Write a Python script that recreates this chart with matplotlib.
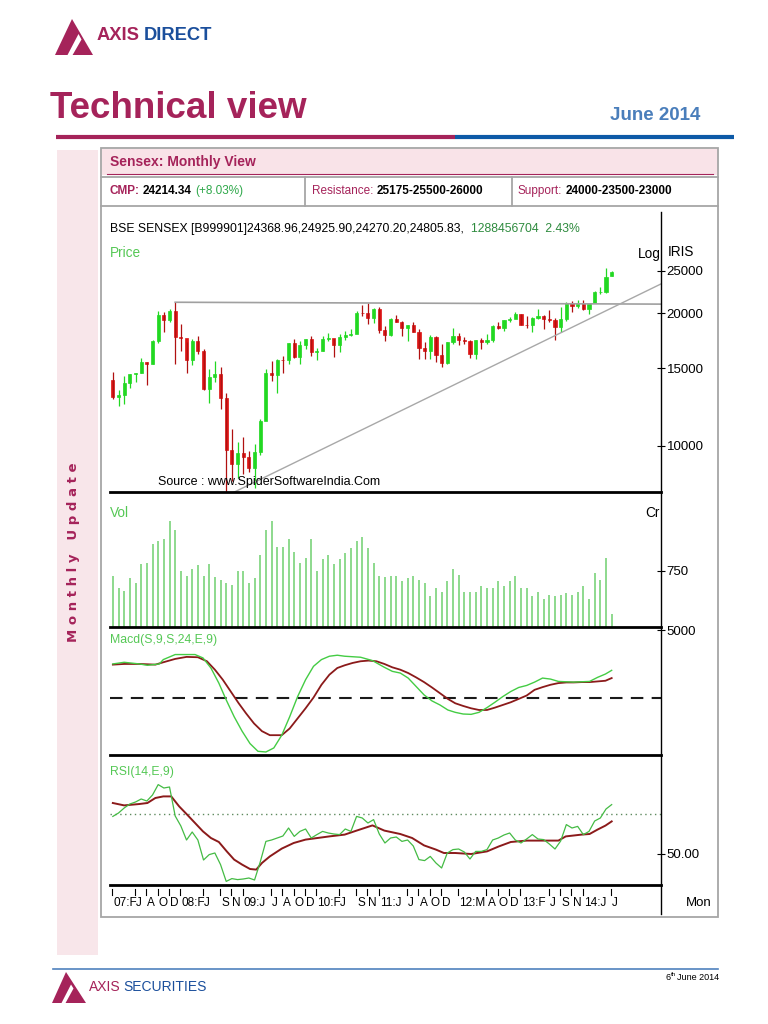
import numpy as np
import matplotlib
matplotlib.use("Agg")
import matplotlib.pyplot as plt
from matplotlib.patches import Polygon, Rectangle
from matplotlib.transforms import blended_transform_factory

# ---- dati mensili BSE Sensex, Feb 2007 .. Jun 2014 (89 candele) ----
opens = [14091, 12938, 13072, 13872, 14544, 14651, 15551, 15319, 17291, 19838, 19363,
         20287, 17649, 17578, 15644, 17287, 16416, 13462, 14356, 14565, 12860, 9788, 9093,
         9647, 9424, 8892, 9709, 11403, 14625, 14494, 15670, 15667, 17127, 15896, 16926,
         17465, 16358, 16430, 17528, 17559, 16945, 17701, 17868, 17971, 20069, 20032, 19521,
         20509, 18328, 17823, 19445, 19136, 18503, 18846, 18197, 16677, 16454, 17705, 16123,
         15455, 17194, 17753, 17404, 17319, 16219, 17430, 17236, 17430, 18763, 18505, 19340,
         19427, 19895, 18862, 18836, 19504, 19760, 19396, 19346, 18620, 19380, 21165, 20792,
         21171, 20514, 21120, 22386, 22418, 24369]
highs = [14724, 13386, 14383, 14576, 14683, 15868, 15542, 17361, 20238, 20204, 20498,
         21206, 18895, 17227, 17480, 17735, 16632, 14942, 15579, 15107, 13203, 10945, 10188,
         10469, 9724, 10127, 11492, 14930, 15600, 15733, 16002, 17142, 17493, 17290, 17530,
         17790, 16669, 17793, 18047, 17536, 17919, 18237, 18475, 20268, 20855, 21108, 20552,
         20664, 18690, 19575, 19811, 19254, 18873, 19131, 18440, 17211, 17908, 17804, 17003,
         17259, 18523, 18040, 17664, 17432, 17448, 17631, 17972, 18869, 19137, 19372, 19612,
         20203, 19966, 19754, 19622, 20443, 19860, 20351, 19569, 20740, 21205, 21321, 21484,
         21409, 21140, 22467, 22939, 25376, 24926]
lows = [12800, 12316, 12426, 13555, 13946, 14638, 13779, 15323, 17144, 18182, 19079,
        15332, 16458, 14677, 15297, 16196, 13405, 12514, 14002, 12153, 7697, 8316, 8467,
        8631, 8748, 8047, 9546, 11621, 14016, 13219, 14684, 15357, 15805, 15330, 16577,
        15982, 15651, 16438, 17277, 15960, 16318, 17396, 17820, 18027, 19769, 18954, 19074,
        18038, 17296, 17792, 19078, 17786, 17314, 18131, 15765, 15801, 15745, 15478, 15135,
        15358, 17061, 16920, 17010, 15809, 15749, 16598, 17027, 17250, 18393, 18255, 19149,
        19508, 18793, 18568, 18144, 19451, 18467, 19127, 17448, 18166, 19265, 20137, 20568,
        20343, 19963, 21074, 22198, 22277, 24270]
closes = [12938, 13072, 13872, 14544, 14651, 15551, 15319, 17291, 19838, 19363, 20287,
          17649, 17578, 15644, 17287, 16416, 13462, 14356, 14565, 12860, 9788, 9093, 9647,
          9424, 8892, 9709, 11403, 14625, 14494, 15670, 15667, 17127, 15896, 16926, 17465,
          16358, 16430, 17528, 17559, 16945, 17701, 17868, 17971, 20069, 20032, 19521, 20509,
          18328, 17823, 19445, 19136, 18503, 18846, 18197, 16677, 16454, 17705, 16123, 15455,
          17194, 17753, 17404, 17319, 16219, 17430, 17236, 17430, 18763, 18505, 19340, 19427,
          19895, 18862, 18836, 19504, 19760, 19396, 19346, 18620, 19380, 21165, 20792, 21171,
          20514, 21120, 22386, 22418, 24217, 24806]
volumes = [682, 517, 484, 649, 592, 837, 860, 1105, 1142, 1175, 1410, 1293, 743, 682, 780,
           823, 686, 837, 672, 625, 592, 564, 743, 743, 592, 649, 954, 1293, 1410, 1072,
           1072, 1175, 996, 860, 917, 1175, 743, 902, 954, 837, 902, 987, 1048, 1142, 1199,
           1048, 860, 686, 663, 686, 686, 611, 649, 686, 625, 592, 414, 517, 461, 611, 776,
           696, 461, 461, 461, 541, 517, 517, 611, 545, 611, 682, 517, 517, 414, 461, 367,
           423, 414, 423, 447, 423, 461, 541, 367, 719, 625, 917, 179]

# linee di prezzo (indice mese, valore)
resist_x, resist_y = [11, 96.7], [21206, 21000]
trend_x, trend_y = [20, 96.7], [7697, 23340]

# MACD (S,9,S,24,E,9)
macd_x = [0, 2, 4.7, 6.1, 8.2, 8.9, 11, 14.5, 15.9, 17.3, 18.7, 20, 21.4, 22.8, 24.2, 25.6,
          27, 28.4, 29.8, 31.2, 32.6, 34, 35.4, 36.8, 38.2, 39.6, 40.9, 43.7, 45.8, 47.9,
          49.3, 50.7, 52.1, 53.5, 54.9, 56.3, 57.7, 59.1, 60.4, 61.8, 63.2, 64.6, 66, 67.4,
          68.8, 70.2, 71.6, 73, 74.4, 75.8, 77.2, 78.6, 81.3, 84.1, 85.5, 86.9, 88]
macd_v = [2500, 2625, 2500, 2400, 2500, 2825, 3200, 3200, 2950, 2200, 1075, -175, -1425,
          -2500, -3425, -4000, -4050, -3750, -2800, -1425, 75, 1325, 2325, 2825, 3075, 3150,
          3075, 3000, 2750, 2250, 1950, 1825, 1450, 825, 200, -250, -550, -925, -1100, -1225,
          -1250, -1100, -750, -350, 75, 450, 750, 900, 1150, 1450, 1375, 1200, 1150, 1200,
          1500, 1750, 2025]
sig_x = [0, 2, 4.7, 7.5, 8.9, 11, 13, 15, 16.6, 18, 19.4, 20.8, 22.2, 23.5, 24.9, 26.3,
         27.7, 29.8, 31.2, 32.6, 34, 35.4, 36.8, 38.2, 39.6, 40.9, 42.3, 43.7, 45.1, 46.5,
         47.9, 49.3, 50.7, 52.1, 53.5, 54.9, 56.3, 57.7, 59.1, 60.4, 61.8, 63.2, 64.6, 66,
         67.4, 68.8, 70.2, 71.6, 73, 74.4, 75.8, 77.2, 78.6, 80, 81.3, 82.7, 84.1, 85.5,
         86.9, 88]
sig_v = [2450, 2500, 2500, 2450, 2625, 2875, 3025, 3000, 2700, 2075, 1325, 450, -425, -1175,
         -1925, -2500, -2800, -2800, -2300, -1550, -800, 0, 950, 1700, 2200, 2400, 2575,
         2700, 2750, 2700, 2500, 2250, 2075, 1825, 1500, 1150, 750, 325, -100, -425, -625,
         -800, -925, -925, -750, -550, -350, -100, 150, 575, 775, 950, 1075, 1125, 1125,
         1150, 1150, 1200, 1250, 1450]

# RSI(14,E,9)
rsi = [68.8, 70.5, 73, 75, 76, 77.5, 76.5, 79.5, 84.7, 83,
       83.5, 69, 64, 57, 61, 57, 47, 49.7, 50.5, 44.7,
       36.3, 37.7, 37.2, 37.5, 38, 37, 46, 56.3, 57, 58,
       59, 63, 58.8, 61.3, 62.5, 58, 59.7, 61.3, 60.5, 60,
       59.7, 62.5, 61.3, 68.8, 68, 65.5, 67.2, 60, 55.5, 58,
       58.5, 56.3, 57, 54, 47.2, 46.7, 48.8, 45.5, 43, 50.5,
       52.2, 52.5, 51, 47.5, 51.3, 51.3, 52.2, 57, 58, 59.5,
       60.5, 57, 55.5, 57.5, 59.7, 57.5, 57.2, 55, 52.5, 56.5,
       64.7, 63, 63.8, 59.7, 61.3, 66.5, 68, 72.5, 74.7]
rsi_sig_x = [0, 2, 4.7, 6.1, 7.5, 8.9, 10.3, 11.7, 13.1, 14.5, 15.9, 17.3, 18.7, 20.1, 21.4,
             22.8, 24.2, 25.3, 26.3, 27.7, 29.8, 31.9, 34, 36.1, 38.2, 40.9, 43, 45.8, 47.9,
             50.7, 52.8, 54.9, 57, 58.4, 60.4, 63.2, 66, 68.1, 70.2, 73, 75.8, 78.6, 79.9,
             82.7, 84.1, 85.5, 86.9, 88]
rsi_sig_v = [75.5, 74.3, 75, 75.5, 78, 78.8, 78.8, 73.8, 69.7, 65.5, 61.3, 58, 56, 51.3,
             47.2, 44.7, 42.5, 42.2, 45.5, 48.8, 52.7, 55.5, 57.2, 58, 58.8, 59.7, 61.7, 64.3,
             61.7, 60, 58, 54.3, 52.2, 50.5, 50.5, 50, 51.3, 53.8, 56, 56.7, 56.7, 56.7, 58.8,
             59.7, 60, 62.2, 64.2, 66.3]

# etichette asse tempo
xlab = ["07:F", "J", "A", "O", "D", "08:F", "J", "S", "N", "09:J", "J", "A", "O", "D",
        "10:F", "J", "S", "N", "11:J", "J", "A", "O", "D", "12:M", "A", "O", "D", "13:F",
        "J", "S", "N", "14:J", "J"]
xlab_idx = [0, 4, 6, 8, 10, 12, 16, 19, 21, 23, 28, 30, 32, 34, 36, 40, 43, 45, 47, 52, 54,
            56, 58, 61, 66, 68, 70, 72, 77, 79, 81, 83, 88]

# ---- stile ----
plt.rcParams["font.family"] = ["Liberation Sans", "DejaVu Sans"]

CRIMSON = "#A5235A"
BLUE = "#1B4F9C"
LBLUE = "#4A7EBB"
PINK = "#F8E6EA"
GRAY = "#A6A6A6"
CUP, CDN = "#22D822", "#DD1414"
LGREEN = "#55C855"
MAROON = "#8B1A1A"
FS = 8.8  # testi del grafico

W, H = 768.0, 1024.0
fig = plt.figure(figsize=(W / 100, H / 100), dpi=100)

def pane(top, bottom):
    ax = fig.add_axes([110 / W, 1 - bottom / H, 551 / W, (bottom - top) / H])
    ax.set_facecolor("none")
    ax.set_xlim(-0.5, 96.7)
    ax.set_xticks([])
    for s in ("top", "left", "right"):
        ax.spines[s].set_visible(False)
    ax.spines["bottom"].set_linewidth(2)
    ax.yaxis.tick_right()
    ax.tick_params(axis="y", direction="inout", length=6, width=0.8, labelsize=9.5, pad=1)
    return ax

idx = np.arange(len(closes))
o, hi, lo, c = map(np.asarray, (opens, highs, lows, closes))
up = c >= o

# prezzo
axp = pane(212, 492)
axp.set_yscale("log")
axp.set_ylim(7860, 34000)
axp.vlines(idx[up], lo[up], hi[up], color=CUP, lw=0.9)
axp.vlines(idx[~up], lo[~up], hi[~up], color="#B01010", lw=0.9)
axp.bar(idx, np.abs(c - o), bottom=np.minimum(o, c), width=0.55,
        color=np.where(up, CUP, CDN), edgecolor=np.where(up, CUP, CDN), lw=0.5)
axp.plot(resist_x, resist_y, color="#A0A0A0", lw=1.2)
axp.plot(trend_x, trend_y, color="#A8A8A8", lw=1)
axp.set_yticks([10000, 15000, 20000, 25000])
axp.set_yticklabels(["10000", "15000", "20000", "25000"])
axp.minorticks_off()

# volume
axv = pane(492, 627)
axv.set_ylim(0, 1800)
axv.vlines(idx, 0, volumes, color="#6FCF6F", lw=1.1)
axv.set_yticks([750])
axv.set_yticklabels(["750"])

# macd
axm = pane(627, 755)
axm.set_ylim(-4275, 5250)
axm.axhline(0, color="#1A1A1A", lw=1.5, ls=(0, (6, 4)))
axm.plot(sig_x, sig_v, color=MAROON, lw=1.3)
axm.plot(macd_x, macd_v, color="#44CC44", lw=1)
axm.set_yticks([5000])
axm.set_yticklabels(["5000"])

# rsi
axr = pane(755, 885)
axr.set_ylim(34.5, 99.5)
axr.axhline(70, color="#5E8A5E", lw=1, ls=(0, (1, 2.5)))
axr.plot(rsi_sig_x, rsi_sig_v, color=MAROON, lw=1.4)
axr.plot(idx, rsi, color="#44BB44", lw=0.9)
axr.set_yticks([50])
axr.set_yticklabels(["50.00"])

# ---- pagina ----
page = fig.add_axes([0, 0, 1, 1])
page.set_xlim(0, W)
page.set_ylim(H, 0)
page.axis("off")
page.patch.set_alpha(0)
page.set_zorder(10)

def parts_line(x, y, parts, gap=0.0, **kw):
    r = fig.canvas.get_renderer()
    for s, col, extra in parts:
        opts = dict(kw)
        opts.update(extra)
        dy = opts.pop("dy", 0)
        g = opts.pop("gap", gap)
        t = page.text(x, y + dy, s, color=col, ha="left", va="center", **opts)
        x += t.get_window_extent(renderer=r).width + g

# logo in alto
page.add_patch(Polygon([(55, 55), (72, 19), (93, 55)], closed=True, color=CRIMSON, lw=0))
page.add_patch(Polygon([(67, 56), (78.5, 34), (81.5, 39.5), (72, 56)], closed=True,
                       color="white", lw=0))
parts_line(97, 36, [("AXIS", CRIMSON, {}), ("DIRECT", BLUE, {})], gap=4,
           fontsize=13.2, fontweight="bold")

page.text(50, 109, "Technical view", color=CRIMSON, fontsize=26.5, fontweight="bold",
          ha="left", va="center")
page.text(700, 116, "June 2014", color=LBLUE, fontsize=13.5, fontweight="bold",
          ha="right", va="center")
page.plot([56, 455], [137, 137], color=CRIMSON, lw=3, solid_capstyle="butt")
page.plot([455, 734], [137, 137], color="#0D5AA7", lw=3, solid_capstyle="butt")

# barra laterale
page.add_patch(Rectangle((57, 150), 41, 805, color=PINK, lw=0))
page.text(74, 552, "M o n t h l y   U p d a t e", rotation=90, color=CRIMSON,
          family="DejaVu Sans", fontsize=9.5, fontweight="bold", ha="center", va="center")

# riquadro
page.add_patch(Rectangle((102, 149), 616, 26, color="#F9E3E8", lw=0))
page.plot([107, 713], [174, 174], color=CRIMSON, lw=0.8)
page.add_patch(Rectangle((101, 148), 617, 769, fill=False, edgecolor=GRAY, lw=1.3))
page.plot([101, 718], [177, 177], color=GRAY, lw=1.3)
page.plot([101, 718], [206, 206], color=GRAY, lw=1.3)
page.plot([305, 305], [177, 206], color=GRAY, lw=1.3)
page.plot([512, 512], [177, 206], color=GRAY, lw=1.3)
page.text(110, 162, "Sensex: Monthly View", color=CRIMSON, fontsize=10, fontweight="bold",
          ha="left", va="center")
rowkw = dict(fontsize=8.5, fontweight="bold")
parts_line(110, 191, [("CMP:", CRIMSON, {}), ("24214.34", "black", {}),
                      ("(+8.03%)", "#2EA84A", {"fontweight": "normal"})], gap=3, **rowkw)
parts_line(312, 191, [("Resistance:", CRIMSON, {"fontweight": "normal"}),
                      ("25175-25500-26000", "black", {})], gap=3, **rowkw)
parts_line(518, 191, [("Support:", CRIMSON, {"fontweight": "normal"}),
                      ("24000-23500-23000", "black", {})], gap=3, **rowkw)

# testi del grafico
parts_line(110, 229, [("BSE SENSEX [B999901]24368.96,24925.90,24270.20,24805.83,", "black", {}),
                      ("1288456704  2.43%", "#2E8B3E", {})], gap=7, fontsize=FS)
page.text(110, 253, "Price", color=LGREEN, fontsize=FS + 1, ha="left", va="center")
page.text(638, 254, "Log", color="black", fontsize=FS + 1, ha="left", va="center")
page.text(668, 252, "IRIS", color="black", fontsize=FS + 1, ha="left", va="center")
page.text(158, 482, "Source : www.SpiderSoftwareIndia.Com", color="black", fontsize=9,
          ha="left", va="center")
page.text(110, 513, "Vol", color=LGREEN, fontsize=FS + 1, ha="left", va="center")
page.text(645, 513, "Cr", color="black", fontsize=FS + 1, ha="left", va="center")
page.text(110, 640, "Macd(S,9,S,24,E,9)", color=LGREEN, fontsize=FS, ha="left", va="center")
page.text(110, 772, "RSI(14,E,9)", color=LGREEN, fontsize=FS, ha="left", va="center")
page.text(686, 903, "Mon", color="black", fontsize=9.5, ha="left", va="center")
page.plot([661, 661], [212, 914], color="black", lw=1)

# etichette dei mesi
trans = blended_transform_factory(axr.transData, page.transData)
for i, lab in zip(xlab_idx, xlab):
    page.plot([i - 0.1, i - 0.1], [889, 895], color="black", lw=0.8, transform=trans)
    page.text(i + 0.1, 903, lab, transform=trans, color="black", fontsize=8.5,
              ha="left", va="center")

# piede di pagina
page.plot([53, 718], [969, 969], color="#4F81BD", lw=1.2)
page.add_patch(Polygon([(52, 1003), (66, 972), (86, 1003)], closed=True, color=CRIMSON, lw=0))
page.add_patch(Polygon([(61, 1004), (71, 984.5), (73.5, 988.5), (65, 1004)], closed=True,
                       color="white", lw=0))
parts_line(89, 987, [("AXIS", CRIMSON, {}), ("SECURITIES", BLUE, {})], gap=3, fontsize=10)
parts_line(665, 977, [("6", "black", {"gap": 0.3}),
                      ("th", "black", {"fontsize": 4.5, "dy": -2, "gap": 1.5}),
                      ("June 2014", "black", {})], fontsize=6.5)

fig.savefig("out.png", dpi=100)
